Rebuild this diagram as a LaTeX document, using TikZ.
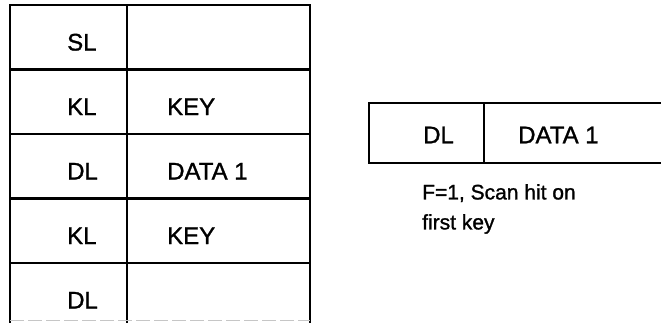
\documentclass[tikz,border=0pt]{standalone}
\usepackage{fontspec}
\setmainfont{Liberation Sans}[BoldFont={Liberation Sans},BoldFeatures={FakeBold=1.2}]
\usetikzlibrary{positioning}
\tikzset{cell/.style={draw,line width=2.2pt,minimum height=64.5pt,inner sep=0pt,outer sep=0pt,anchor=north west},
lcol/.style={cell,minimum width=117pt},rcol/.style={cell,minimum width=183pt},
txt/.style={font=\fontsize{24}{28}\selectfont\bfseries,inner sep=0pt},
note/.style={font=\fontsize{21}{30}\selectfont\bfseries,align=left,inner sep=0pt,anchor=north west}}

\begin{document}
\begin{tikzpicture}[x=1pt,y=-1pt]
\useasboundingbox (0,0) rectangle (661,322);
% track layout on the left
\foreach \lab/\val [count=\i] in {SL/,KL/KEY,DL/DATA 1,KL/KEY,DL/}{
\node[lcol] (l\i) at (10,{5+64.5*(\i-1)}) {};
\node[rcol] (v\i) at (127,{5+64.5*(\i-1)}) {};
\node[txt,right=57pt of l\i.west,yshift=-5pt] (lt\i) {\lab};
\node[txt,right=40pt of v\i.west,yshift=-5pt] (vt\i) {\val};
}
\coordinate (bl) at (10,320.5);\coordinate (br) at (310,320.5);
\draw[gray!45,line width=1pt,dash pattern=on 14pt off 4pt] (bl)--(br);
% record read on the right
\node[cell,minimum width=115pt,minimum height=60pt] (rdl) at (369,103) {};
\node[cell,minimum width=180pt,minimum height=60pt] (rdata) at (484,103) {};
\node[txt,right=54pt of rdl.west,yshift=-2pt] (rdlt) {DL};
\node[txt,right=34pt of rdata.west,yshift=-2pt] (rdatat) {DATA 1};
\node[note] (hit) at (422,184) {F=1, Scan hit on\\first key};
\end{tikzpicture}
\end{document}
